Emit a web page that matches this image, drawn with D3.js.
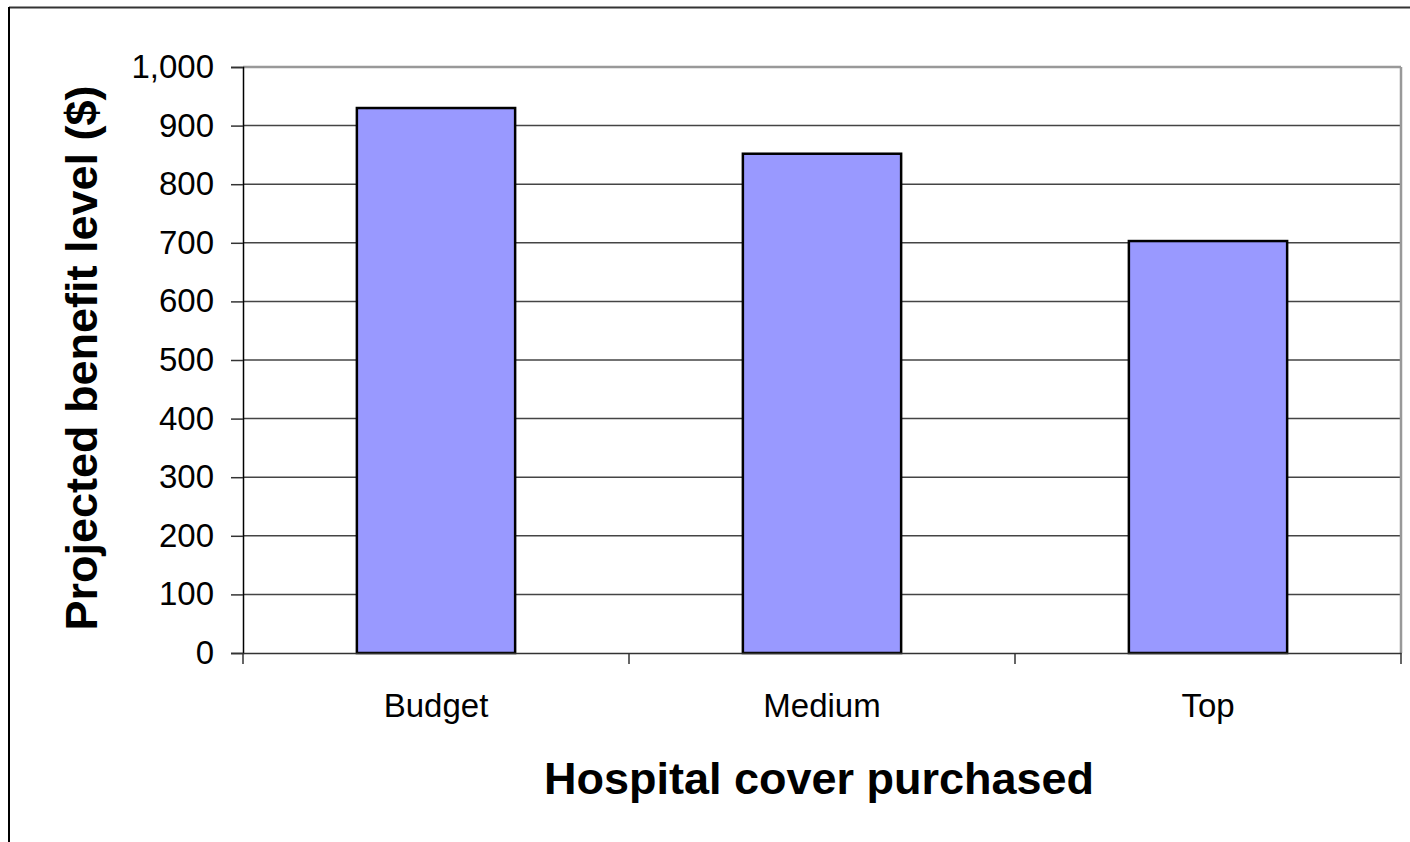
<!DOCTYPE html>
<html>
<head>
<meta charset="utf-8">
<script src="https://cdn.jsdelivr.net/npm/d3@7/dist/d3.min.js"></script>
<style>
  html, body { margin: 0; padding: 0; background: #fff; }
  svg { display: block; font-family: "Liberation Sans", Arial, sans-serif; }
</style>
</head>
<body>
<svg id="chart" width="1410" height="842"></svg>
<script>
const categories = ["Budget", "Medium", "Top"];
const values = [930, 852, 703];
const yTicks = [0, 100, 200, 300, 400, 500, 600, 700, 800, 900, 1000];
const xTitle = "Hospital cover purchased";
const yTitle = "Projected benefit level ($)";

const svg = d3.select("#chart");
const W = 1410, H = 842;
const plot = { left: 243, right: 1401, top: 67, bottom: 653 };

// outer chart border
svg.append("line").attr("x1", 9).attr("x2", W + 5).attr("y1", 7.5).attr("y2", 7.5)
  .attr("stroke", "#333").attr("stroke-width", 2);
svg.append("line").attr("x1", 9).attr("x2", 9).attr("y1", 7).attr("y2", H + 5)
  .attr("stroke", "#000").attr("stroke-width", 2);

const x = d3.scaleBand().domain(categories).range([plot.left, plot.right])
  .paddingInner(0.59).paddingOuter(0.295);
const xCat = d3.scaleBand().domain(categories).range([plot.left, plot.right]).padding(0);
const y = d3.scaleLinear().domain([0, 1000]).range([plot.bottom, plot.top]);

// gridlines
svg.append("g").selectAll("line").data(yTicks.filter(d => d > 0 && d < 1000)).join("line")
  .attr("x1", plot.left).attr("x2", plot.right)
  .attr("y1", d => y(d)).attr("y2", d => y(d))
  .attr("stroke", "#444").attr("stroke-width", 1.5);

// plot area border (top and right)
svg.append("line").attr("x1", plot.left).attr("x2", plot.right).attr("y1", plot.top).attr("y2", plot.top)
  .attr("stroke", "#999").attr("stroke-width", 2.5);
svg.append("line").attr("x1", plot.right).attr("x2", plot.right).attr("y1", plot.top).attr("y2", plot.bottom)
  .attr("stroke", "#999").attr("stroke-width", 2.5);

// bars
svg.append("g").selectAll("rect").data(categories).join("rect")
  .attr("x", d => x(d))
  .attr("y", (d, i) => y(values[i]))
  .attr("width", x.bandwidth())
  .attr("height", (d, i) => y(0) - y(values[i]))
  .attr("fill", "#9999FF")
  .attr("stroke", "#000")
  .attr("stroke-width", 2.5);

// y axis
const yAxis = d3.axisLeft(y).tickValues(yTicks).tickSize(12).tickPadding(17)
  .tickFormat(d3.format(","));
const gy = svg.append("g").attr("transform", `translate(${plot.left},0)`).call(yAxis);
gy.select(".domain").attr("stroke", "#000").attr("stroke-width", 1.5);
gy.selectAll(".tick line").attr("stroke", "#333").attr("stroke-width", 1.5);
gy.selectAll(".tick text").attr("font-size", 33).attr("fill", "#000")
  .attr("font-family", "Liberation Sans, Arial, sans-serif");

// x axis
const xAxis = d3.axisBottom(xCat).tickSize(0).tickPadding(41);
const gx = svg.append("g").attr("transform", `translate(0,${plot.bottom})`).call(xAxis);
gx.select(".domain").attr("stroke", "#333").attr("stroke-width", 1.5);
gx.selectAll(".tick text").attr("font-size", 33).attr("fill", "#000")
  .attr("font-family", "Liberation Sans, Arial, sans-serif");
// category boundary ticks
const bounds = categories.map(c => xCat(c)).concat([xCat.range()[1]]);
svg.append("g").selectAll("line").data(bounds).join("line")
  .attr("x1", d => d).attr("x2", d => d)
  .attr("y1", plot.bottom).attr("y2", plot.bottom + 11)
  .attr("stroke", "#333").attr("stroke-width", 1.5);

// titles
svg.append("text").attr("x", 819).attr("y", 794).attr("text-anchor", "middle")
  .attr("font-size", 45).attr("font-weight", "bold").attr("fill", "#000").text(xTitle);
svg.append("text").attr("transform", "translate(97,358) rotate(-90)").attr("text-anchor", "middle")
  .attr("font-size", 45).attr("font-weight", "bold").attr("fill", "#000").text(yTitle);
</script>
</body>
</html>
